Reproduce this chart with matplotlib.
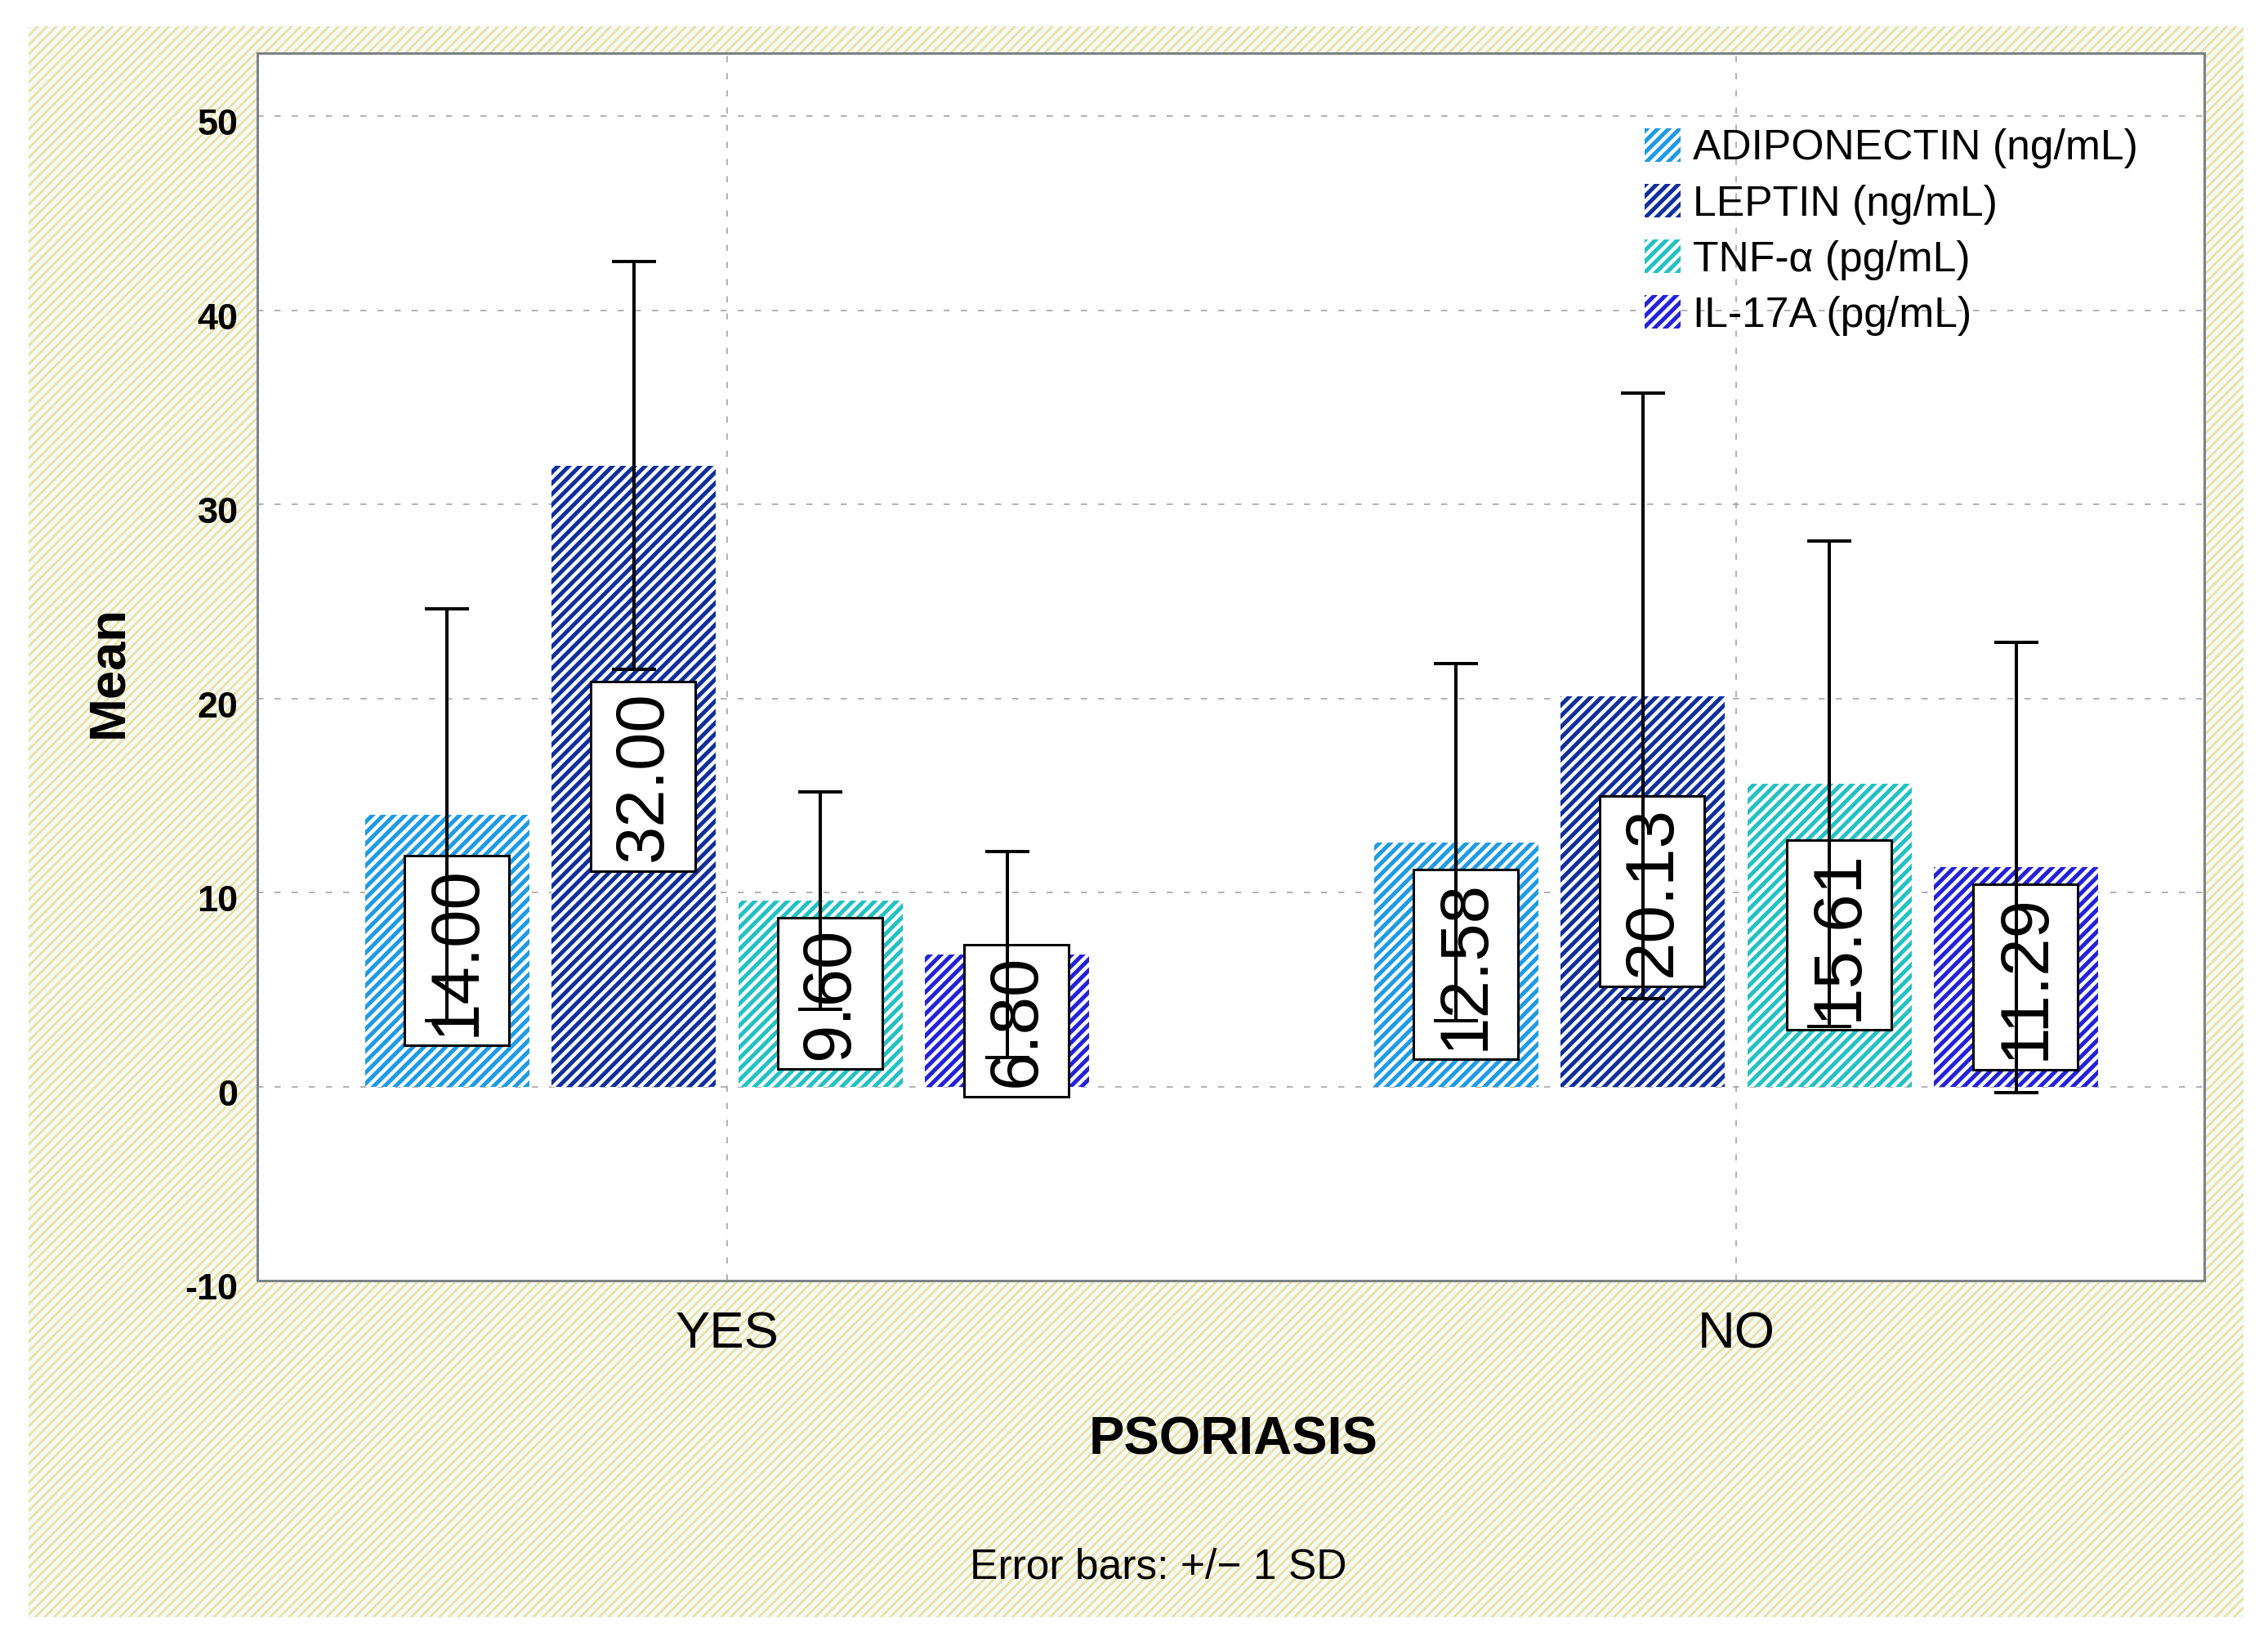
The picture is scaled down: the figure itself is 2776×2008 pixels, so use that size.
import matplotlib
matplotlib.use("Agg")
import matplotlib.pyplot as plt
from matplotlib.patches import Rectangle
from matplotlib.path import Path
from matplotlib.collections import LineCollection
from matplotlib.transforms import ScaledTranslation
import numpy as np

# Data
groups = ["YES", "NO"]
series = ["ADIPONECTIN (ng/mL)", "LEPTIN (ng/mL)", "TNF-α (pg/mL)", "IL-17A (pg/mL)"]
adiponectin_mean = [14.00, 12.58]
leptin_mean = [32.00, 20.13]
tnf_mean = [9.60, 15.61]
il17_mean = [6.80, 11.29]
adiponectin_sd = [10.6, 9.2]
leptin_sd = [10.5, 15.6]
tnf_sd = [5.6, 12.5]
il17_sd = [5.3, 11.6]
y_ticks = [-10, 0, 10, 20, 30, 40, 50]

means = [adiponectin_mean, leptin_mean, tnf_mean, il17_mean]
sds = [adiponectin_sd, leptin_sd, tnf_sd, il17_sd]
colors = ["#1e9be6", "#0f2f9c", "#22c2c4", "#2222dc"]

plt.rcParams["font.family"] = ["Liberation Sans", "DejaVu Sans"]
plt.rcParams["hatch.linewidth"] = 3.0

W, H, DPI = 2776, 2008, 120
fig = plt.figure(figsize=(W / DPI, H / DPI), dpi=DPI)
fig.patch.set_facecolor("white")


# box round the value labels: less pad along the text, more across it
def label_box(x0, y0, width, height, mutation_size):
    pa = 0.14 * mutation_size
    pc = 0.30 * mutation_size
    verts = [(x0 - pa, y0 - pc), (x0 + width + pa, y0 - pc),
             (x0 + width + pa, y0 + height + pc), (x0 - pa, y0 + height + pc),
             (x0 - pa, y0 - pc)]
    return Path(verts, closed=True)


# striped yellow background panel (pixel coords of the figure)
bx0, by0, bx1, by1 = 35, 29, 2746, 1976
bg = Rectangle((bx0, by0), bx1 - bx0, by1 - by0, transform=None,
               facecolor="#f2fbf6", linewidth=0, zorder=-6)
fig.add_artist(bg)
gap = 11.5
offs = np.arange(-(by1 - by0), bx1 - bx0, gap)
segs = [[(bx0 + o, by0), (bx0 + o + (by1 - by0), by1)] for o in offs]
stripes = LineCollection(segs, colors="#efdfa4", linewidths=1.7, transform=None,
                         zorder=-5)
stripes.set_clip_path(bg)
fig.add_artist(stripes)

ax = fig.add_axes([315 / W, 1 - 1567 / H, (2698 - 315) / W, (1567 - 65) / H])
ax.set_facecolor("white")

x = np.arange(len(groups))
bar_width = 0.163
step = 0.185
for i in range(len(series)):
    xs = x + (i - 1.5) * step
    ax.bar(xs, means[i], bar_width, color="white", edgecolor=colors[i],
           hatch="///", linewidth=0, label=series[i], zorder=2)
    ax.errorbar(xs, means[i], yerr=sds[i], fmt="none", ecolor="black",
                elinewidth=2.4, capsize=16, capthick=2.4, zorder=4)
    for xi, m in zip(xs, means[i]):
        ax.text(xi + 0.0095, m / 2, "{:.2f}".format(m), rotation=90, ha="center",
                va="center", fontsize=50, zorder=3,
                bbox=dict(boxstyle=label_box, fc="white", ec="black", lw=1.8))

ax.set_xlim(-0.4656, 1.464)
ax.set_ylim(-10, 53.25)
ax.set_xticks(x)
ax.set_xticklabels(groups, fontsize=38)
ax.set_yticks(y_ticks)
ax.set_yticklabels([str(t) for t in y_ticks], fontsize=27, fontweight="bold")
ax.tick_params(axis="x", length=0, pad=22)
ax.tick_params(axis="y", length=0, pad=14)
shift = ScaledTranslation(0, -7 / DPI, fig.dpi_scale_trans)
for lab in ax.get_yticklabels():
    lab.set_transform(lab.get_transform() + shift)

ax.set_axisbelow(True)
ax.grid(True, color="#9a9a9a", linestyle=(0, (5, 9)), linewidth=0.9)
for s in ax.spines.values():
    s.set_color("#7c8286")
    s.set_linewidth(1.8)

leg = ax.legend(loc="upper left", bbox_to_anchor=(2013 / W, 1 - 157 / H),
                bbox_transform=fig.transFigure, frameon=False, fontsize=31,
                handlelength=0.85, handleheight=0.85, handletextpad=0.3,
                labelspacing=0.36, borderpad=0, borderaxespad=0)

fig.text(133 / W, 1 - 822 / H, "Mean", rotation=90, ha="center", va="center",
         fontsize=38, fontweight="bold")
fig.text(1510 / W, 1 - 1762 / H, "PSORIASIS", ha="center", va="center",
         fontsize=39, fontweight="bold")
fig.text(1418 / W, 1 - 1918 / H, "Error bars: +/\u2212 1 SD", ha="center",
         va="center", fontsize=31)

fig.savefig("out.png", dpi=DPI)
